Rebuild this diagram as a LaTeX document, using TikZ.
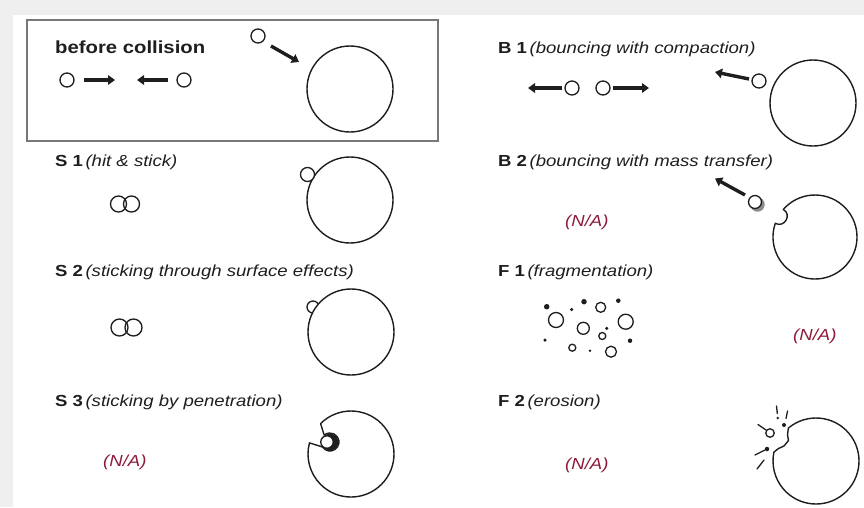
\documentclass[tikz,border=0pt]{standalone}
\usepackage{fontspec}
\setmainfont{Liberation Sans}[FakeStretch=1.16]
\usetikzlibrary{arrows.meta}
\definecolor{pagegray}{RGB}{239,239,239}
\definecolor{ink}{RGB}{30,30,30}
\definecolor{natext}{RGB}{140,28,58}
\definecolor{boxline}{RGB}{120,120,120}

\tikzset{
  ball/.style={circle, draw=ink, line width=1.35pt, fill=white, inner sep=0pt, minimum size=14pt},
  bigball/.style={circle, draw=ink, line width=1.4pt, fill=white, inner sep=0pt, minimum size=86pt},
  dotfrag/.style={circle, fill=ink, inner sep=0pt},
  ringfrag/.style={circle, draw=ink, line width=1.3pt, inner sep=0pt},
  push/.style={draw=ink, line width=3.4pt, -{Triangle[length=7pt,width=9.5pt]}},
  rim/.style={draw=ink, line width=1.4pt, line join=round},
  lbl/.style={anchor=base west, inner sep=0pt, text=ink, font=\fontsize{16}{19}\selectfont},
  nalbl/.style={anchor=base west, inner sep=0pt, text=natext, font=\fontsize{16}{19}\selectfont\itshape},
  chip/.style={draw=ink, line width=1.3pt, line cap=round},
}
\newcommand{\cls}[2]{\textbf{#1}\hspace{2.5pt}\textit{(#2)}}

\begin{document}
\begin{tikzpicture}[x=1pt, y=-1pt]
% page ground
\fill[pagegray] (0,0) rectangle (864,507);
\useasboundingbox (0,0) rectangle (864,507);
\fill[white] (13,15) rectangle (864,507);

% ---------- before collision ----------
\draw[boxline, line width=1.6pt] (27,20) rectangle (438,141);
\node[lbl, font=\fontsize{17.5}{20}\selectfont\bfseries] (tBefore) at (55,53) {before collision};
\node[ball] (pa) at (67,80) {};
\node[ball] (pb) at (184,80) {};
\coordinate (pa1) at (84,80);  \coordinate (pa2) at (115,80);
\coordinate (pb1) at (168,80); \coordinate (pb2) at (137,80);
\draw[push] (pa1) -- (pa2);
\draw[push] (pb1) -- (pb2);
\node[ball] (pc) at (258,36) {};
\node[bigball] (tgt0) at (350,89) {};
\coordinate (pc1) at (271,46); \coordinate (pc2) at (299,62);
\draw[push] (pc1) -- (pc2);

% ---------- S1 ----------
\node[lbl] (tS1) at (55,166.5) {\cls{S 1}{hit \& stick}};
\node[ball, minimum size=16pt, fill=none] (s1a) at (118.5,204) {};
\node[ball, minimum size=16pt, fill=none] (s1b) at (131.5,204) {};
\node[bigball] (tgt1) at (350,200) {};
\node[ball] (s1c) at (307.5,174.5) {};

% ---------- S2 ----------
\node[lbl] (tS2) at (55,276.5) {\cls{S 2}{sticking through surface effects}};
\node[ball, minimum size=17pt, fill=none] (s2a) at (119.5,327.5) {};
\node[ball, minimum size=17pt, fill=none] (s2b) at (133.5,327.5) {};
\node[ball, minimum size=12pt] (s2c) at (313,307) {};
\node[bigball] (tgt2) at (351,332) {};

% ---------- S3 ----------
\node[lbl] (tS3) at (55,406.5) {\cls{S 3}{sticking by penetration}};
\node[nalbl] (naS3) at (103,466.5) {(N/A)};
\coordinate (s3c) at (351,454);
\coordinate (s3k) at (330,442);
\fill[white] (s3c) ++(225:43) arc[start angle=225, end angle=555, radius=43]
  -- (322.5,447) arc[start angle=146, end angle=-130, radius=9] -- cycle;
\draw[rim] (s3c) ++(225:43) arc[start angle=225, end angle=555, radius=43]
  -- (322.5,447) arc[start angle=146, end angle=-130, radius=9] -- cycle;
\fill[ink] (s3k) circle[radius=8.3];
\node[ball, minimum size=12.5pt] (s3b) at (327,442) {};

% ---------- B1 ----------
\node[lbl] (tB1) at (498,53) {\cls{B 1}{bouncing with compaction}};
\node[ball] (b1a) at (572,88) {};
\node[ball] (b1b) at (603,88) {};
\coordinate (b1a1) at (562,88); \coordinate (b1a2) at (528,88);
\coordinate (b1b1) at (613,88); \coordinate (b1b2) at (649,88);
\draw[push] (b1a1) -- (b1a2);
\draw[push] (b1b1) -- (b1b2);
\node[bigball] (tgt4) at (813,103) {};
\node[ball] (b1c) at (759,81) {};
\coordinate (b1c1) at (749,79); \coordinate (b1c2) at (715,72);
\draw[push] (b1c1) -- (b1c2);

% ---------- B2 ----------
\node[lbl] (tB2) at (498,166.5) {\cls{B 2}{bouncing with mass transfer}};
\node[nalbl] (naB2) at (565,226.5) {(N/A)};
\coordinate (b2c) at (815,237);
\draw[rim] (b2c) ++(221:42) arc[start angle=221, end angle=559, radius=42]
  .. controls (784.5,228.3) and (792.3,214.4) .. cycle;
\fill[black!45] (757.5,204.5) circle[radius=7.2];
\node[ball, minimum size=13pt] (b2b) at (755,202) {};
\coordinate (b2b1) at (745,195); \coordinate (b2b2) at (715,178.5);
\draw[push] (b2b1) -- (b2b2);

% ---------- F1 ----------
\node[lbl] (tF1) at (498,276.5) {\cls{F 1}{fragmentation}};
\node[nalbl] (naF1) at (793,340) {(N/A)};
\foreach \x/\y/\d [count=\i] in {546.7/306.7/5.5, 571.7/309.5/3.5, 584/301.7/5.5, 618.3/300.7/4.5,
   606.7/328.3/3.5, 545/340/3.5, 590/350.7/2.8, 630/340.7/4.5}
  \node[dotfrag, minimum size=\d pt] (fd\i) at (\x,\y) {};
\foreach \x/\y/\d [count=\i] in {600.7/307.3/10, 556/320/15, 583.3/328.3/12, 602.3/336/7,
   625.7/321.7/15, 572.3/347.7/7, 611/351.7/11}
  \node[ringfrag, minimum size=\d pt] (fr\i) at (\x,\y) {};

% ---------- F2 ----------
\node[lbl] (tF2) at (498,406.5) {\cls{F 2}{erosion}};
\node[nalbl] (naF2) at (565,469) {(N/A)};
\coordinate (f2c) at (816,461);
\draw[rim] (f2c) ++(230:43) arc[start angle=230, end angle=552, radius=43]
  -- (778.5,448.5) -- (784,446) -- (788.5,440.5) -- (787.5,435) -- cycle;
\node[ringfrag, minimum size=8.5pt] (f2a) at (770,433) {};
\coordinate (f2a1) at (766,430); \coordinate (f2a2) at (758,424.5);
\draw[chip] (f2a1) -- (f2a2);
\coordinate (f2e1) at (776.5,406); \coordinate (f2e2) at (777.3,413.5);
\draw[chip] (f2e1) -- (f2e2);
\node[dotfrag, minimum size=2.8pt] (f2e3) at (777.7,418) {};
\coordinate (f2g1) at (787.5,411); \coordinate (f2g2) at (786,418.5);
\draw[chip] (f2g1) -- (f2g2);
\node[dotfrag, minimum size=4pt] (f2g3) at (784,425) {};
\node[dotfrag, minimum size=4.5pt] (f2h) at (767,449) {};
\coordinate (f2h2) at (755,455);
\draw[chip] (f2h) -- (f2h2);
\coordinate (f2j1) at (764,460); \coordinate (f2j2) at (757,469);
\draw[chip] (f2j1) -- (f2j2);
\end{tikzpicture}
\end{document}
